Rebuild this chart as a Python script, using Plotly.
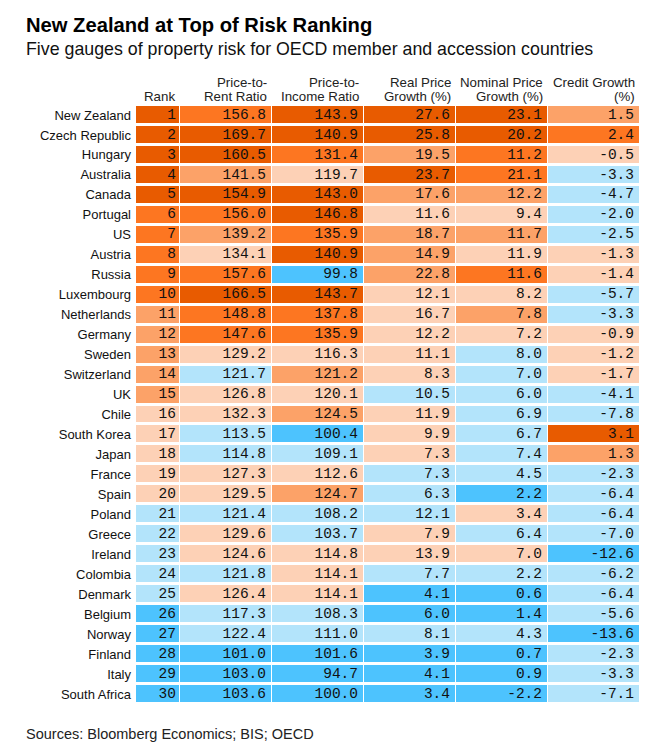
import plotly.graph_objects as go

countries = ["New Zealand", "Czech Republic", "Hungary", "Australia", "Canada", "Portugal", "US",
             "Austria", "Russia", "Luxembourg", "Netherlands", "Germany", "Sweden", "Switzerland",
             "UK", "Chile", "South Korea", "Japan", "France", "Spain", "Poland", "Greece", "Ireland",
             "Colombia", "Denmark", "Belgium", "Norway", "Finland", "Italy", "South Africa"]

rank = list(range(1, 31))
price_to_rent = [156.8, 169.7, 160.5, 141.5, 154.9, 156.0, 139.2, 134.1, 157.6, 166.5, 148.8, 147.6,
                 129.2, 121.7, 126.8, 132.3, 113.5, 114.8, 127.3, 129.5, 121.4, 129.6, 124.6, 121.8,
                 126.4, 117.3, 122.4, 101.0, 103.0, 103.6]
price_to_income = [143.9, 140.9, 131.4, 119.7, 143.0, 146.8, 135.9, 140.9, 99.8, 143.7, 137.8, 135.9,
                   116.3, 121.2, 120.1, 124.5, 100.4, 109.1, 112.6, 124.7, 108.2, 103.7, 114.8, 114.1,
                   114.1, 108.3, 111.0, 101.6, 94.7, 100.0]
real_growth = [27.6, 25.8, 19.5, 23.7, 17.6, 11.6, 18.7, 14.9, 22.8, 12.1, 16.7, 12.2, 11.1, 8.3, 10.5,
               11.9, 9.9, 7.3, 7.3, 6.3, 12.1, 7.9, 13.9, 7.7, 4.1, 6.0, 8.1, 3.9, 4.1, 3.4]
nominal_growth = [23.1, 20.2, 11.2, 21.1, 12.2, 9.4, 11.7, 11.9, 11.6, 8.2, 7.8, 7.2, 8.0, 7.0, 6.0,
                  6.9, 6.7, 7.4, 4.5, 2.2, 3.4, 6.4, 7.0, 2.2, 0.6, 1.4, 4.3, 0.7, 0.9, -2.2]
credit_growth = [1.5, 2.4, -0.5, -3.3, -4.7, -2.0, -2.5, -1.3, -1.4, -5.7, -3.3, -0.9, -1.2, -1.7, -4.1,
                 -7.8, 3.1, 1.3, -2.3, -6.4, -6.4, -7.0, -12.6, -6.2, -6.4, -5.6, -13.6, -2.3, -3.3, -7.1]

# risk tier of each cell (0 = highest risk ... 5 = lowest risk)
rank_tier = [0]*5 + [1]*5 + [2]*5 + [3]*5 + [4]*5 + [5]*5
rent_tier = [1, 0, 0, 2, 0, 1, 2, 3, 1, 0, 1, 1, 3, 4, 3, 3, 4, 4, 3, 3, 4, 3, 3, 4, 3, 4, 4, 5, 5, 5]
income_tier = [0, 0, 1, 3, 0, 0, 1, 0, 5, 0, 1, 1, 3, 2, 3, 2, 5, 4, 3, 2, 4, 4, 3, 3, 3, 4, 4, 5, 5, 5]
real_tier = [0, 0, 2, 0, 2, 3, 2, 2, 2, 3, 3, 3, 3, 3, 4, 3, 3, 3, 4, 4, 4, 3, 3, 4, 5, 5, 4, 5, 5, 5]
nominal_tier = [0, 0, 1, 1, 2, 3, 2, 3, 1, 3, 2, 3, 4, 4, 4, 4, 4, 4, 4, 5, 3, 4, 3, 4, 5, 5, 4, 5, 5, 5]
credit_tier = [2, 1, 3, 4, 4, 4, 4, 3, 3, 4, 4, 3, 3, 3, 4, 4, 0, 2, 4, 4, 4, 4, 5, 4, 4, 4, 5, 4, 4, 4]

header_line1 = ["", "Price-to-", "Price-to-", "Real Price", "Nominal Price", "Credit Growth"]
header_line2 = ["Rank", "Rent Ratio", "Income Ratio", "Growth (%)", "Growth (%)", "(%)"]

tier_colors = ["#E85B00", "#FD7621", "#FCA268", "#FDD1B6", "#B3E4FB", "#4DC3FE"]

# column edges in pixel-like units
col_widths = [44, 92, 92, 92, 92, 92]
edges = [0]
for w in col_widths:
    edges.append(edges[-1] + w)

columns = [rank, price_to_rent, price_to_income, real_growth, nominal_growth, credit_growth]
tiers = [rank_tier, rent_tier, income_tier, real_tier, nominal_tier, credit_tier]

z = [[tiers[j][i] for j in range(6)] for i in range(30)]

cs = []
n = len(tier_colors)
for k, c in enumerate(tier_colors):
    cs.append([k / n, c])
    cs.append([(k + 1) / n, c])

fig = go.Figure()
fig.add_trace(go.Heatmap(
    z=z, x=edges, y=countries, colorscale=cs, zmin=-0.5, zmax=5.5,
    showscale=False, xgap=1, ygap=3, hoverinfo="skip"))

for j, col in enumerate(columns):
    pad = 4 if j == 0 else 6
    txt = [str(v) if j == 0 else f"{v:.1f}" for v in col]
    fig.add_trace(go.Scatter(
        x=[edges[j + 1] - pad] * 30, y=countries, mode="text", text=txt,
        textposition="middle left",
        textfont=dict(family="Liberation Mono, DejaVu Sans Mono", size=14.5, color="#111111"),
        hoverinfo="skip", showlegend=False))

W, H = 670, 743
ml, mr, mt, mb = 136, 30, 105, 39
pw, ph = W - ml - mr, H - mt - mb


def px_x(x):
    return (x - ml) / pw


def px_y(y):
    return (H - mb - y) / ph


hfont = dict(family="Liberation Sans, Arial", size=13.3, color="#222222")
annotations = []
for j in range(6):
    for txt, yc in ((header_line1[j], 82.5), (header_line2[j], 96.5)):
        if txt:
            annotations.append(dict(
                x=edges[j + 1] - 3, xref="x", y=px_y(yc), yref="paper", text=txt, showarrow=False,
                xanchor="right", yanchor="middle", align="right", font=hfont))

annotations.append(dict(
    x=px_x(24), xref="paper", y=px_y(24.5), yref="paper", text="<b>New Zealand at Top of Risk Ranking</b>",
    showarrow=False, xanchor="left", yanchor="middle",
    font=dict(family="Liberation Sans, Arial", size=20.2, color="#000000")))
annotations.append(dict(
    x=px_x(24), xref="paper", y=px_y(49.5), yref="paper",
    text="Five gauges of property risk for OECD member and accession countries",
    showarrow=False, xanchor="left", yanchor="middle",
    font=dict(family="Liberation Sans, Arial", size=17.8, color="#111111")))
annotations.append(dict(
    x=px_x(24), xref="paper", y=px_y(734), yref="paper",
    text="Sources: Bloomberg Economics; BIS; OECD",
    showarrow=False, xanchor="left", yanchor="middle",
    font=dict(family="Liberation Sans, Arial", size=14.5, color="#222222")))

fig.update_layout(
    width=W, height=H, margin=dict(l=ml, r=mr, t=mt, b=mb, pad=0),
    paper_bgcolor="white", plot_bgcolor="white",
    xaxis=dict(visible=False, range=[0, edges[-1]], fixedrange=True),
    yaxis=dict(range=[29.5, -0.5], showgrid=False, zeroline=False, showline=False,
               ticks="", ticklabelstandoff=4,
               tickfont=dict(family="Liberation Sans, Arial", size=13, color="#111111"),
               fixedrange=True),
    annotations=annotations, showlegend=False)

fig.write_html("out.html", config={"displayModeBar": False},
               post_script="document.body.style.margin='0';")
